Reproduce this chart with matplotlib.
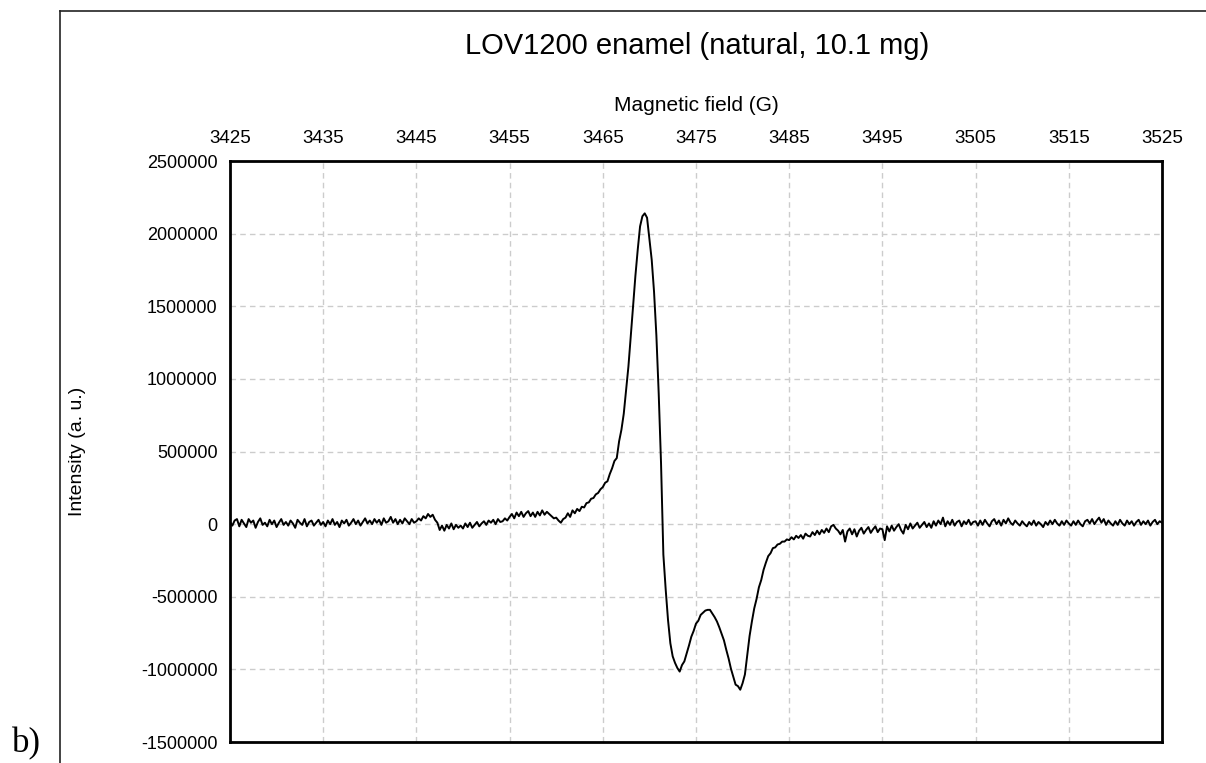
import numpy as np
import matplotlib
matplotlib.use("Agg")
import matplotlib.pyplot as plt
from matplotlib.lines import Line2D

plt.rcParams['font.family'] = ['Liberation Sans', 'DejaVu Sans']
plt.rcParams['axes.unicode_minus'] = False

# field sampled every 0.25 G from 3425 to 3525
field = np.arange(3425.0, 3525.001, 0.25)

# intensity in thousands (rows of 5 G)
intensity_k = [
    15, -10, 25, 35, -15, 30, 5, -20, 35, 10, 25, -25, 15, 40, -5, 10, -15, 30, 0, 25,
    -20, 10, 35, -5, 15, -10, 25, 5, -25, 30, 10, -5, 35, -15, 15, 25, -10, 10, 30, -5,
    15, -15, 25, 0, 35, -5, 15, -20, 25, 5, 30, -10, 10, 35, 0, 25, -10, 15, 40, 5,
    25, 0, 35, 10, 30, -5, 40, 10, 20, 50, 10, 35, 0, 30, 5, 40, 20, 0, 35, 10,
    20, 40, 25, 55, 40, 70, 50, 65, 30, 10, -40, -10, -45, -5, -30, 5, -35, -5, -25, -10,
    -30, 5, -20, 10, -25, -5, 15, -15, 5, 20, -5, 25, 10, 30, 0, 35, 15, 20, 40, 25,
    50, 70, 40, 80, 55, 85, 50, 75, 90, 55, 80, 50, 85, 60, 95, 65, 85, 70, 55, 40,
    45, 25, 10, 35, 45, 75, 50, 95, 75, 105, 90, 120, 115, 145, 150, 175, 180, 205, 215, 240,
    255, 285, 295, 345, 385, 435, 455, 570, 650, 760, 920, 1085, 1290, 1500, 1710, 1890, 2050, 2120, 2140, 2110,
    1965, 1820, 1600, 1300, 900, 420, -210, -450, -660, -820, -910, -955, -990, -1015, -970, -945, -890, -835, -775, -735,
    -685, -665, -625, -610, -595, -590, -590, -615, -640, -670, -710, -755, -800, -865, -925, -995, -1050, -1105, -1115, -1140,
    -1095, -1035, -900, -770, -670, -580, -515, -435, -385, -315, -265, -220, -200, -165, -160, -140, -135, -120, -120, -105,
    -110, -90, -105, -80, -95, -75, -100, -65, -80, -85, -55, -75, -45, -70, -40, -60, -30, -55, -15, -5,
    -30, -45, -70, -40, -120, -50, -30, -70, -35, -85, -45, -25, -65, -40, -20, -60, -35, -15, -55, -30,
    -35, -110, -15, -50, -10, -45, -20, 0, -40, -65, -5, -35, 5, -30, -10, 10, -25, -5, 15, -20,
    5, -25, 20, -10, 25, 0, 45, -15, 20, -5, 30, -10, 15, 25, -15, 20, 0, 30, -5, 15,
    20, -10, 25, -5, 30, 5, -15, 20, 35, 0, 25, -10, 30, 5, 40, 10, -5, 25, 5, -10,
    20, 0, -15, 15, -5, 25, -10, 15, 0, -20, 15, -5, 25, 0, 30, 5, -10, 20, -5, 25,
    5, -10, 20, -5, 25, 0, -15, 20, 30, 5, 35, 0, 25, 45, 10, 35, -5, 25, 5, -10,
    20, -5, 30, 5, -10, 25, 0, 20, -10, 15, 30, -5, 20, 0, 25, -10, 15, 30, 0, 20, 10,
]
intensity = np.array(intensity_k) * 1000

x_ticks = list(range(3425, 3526, 10))
y_ticks = list(range(-1500000, 2500001, 500000))

fig = plt.figure(figsize=(12.06, 7.63), dpi=100)
ax = fig.add_axes([0.1907, 0.0275, 0.7728, 0.7614])

ax.plot(field, intensity, color='black', linewidth=1.4)

ax.set_xlim(3425, 3525)
ax.set_ylim(-1500000, 2500000)
ax.set_xticks(x_ticks)
ax.set_yticks(y_ticks)
ax.set_yticklabels([str(v) for v in y_ticks])
ax.xaxis.tick_top()
ax.xaxis.set_label_position('top')
ax.tick_params(axis='x', length=0, pad=10, labelsize=13.5)
ax.tick_params(axis='y', length=0, pad=9, labelsize=13)

ax.grid(True, color='#cccccc', linestyle=(0, (4, 3)), linewidth=1.0)
for s in ax.spines.values():
    s.set_linewidth(2.0)
    s.set_color('black')

ax.set_xlabel('Magnetic field (G)', fontsize=15, labelpad=14)
ax.set_ylabel('Intensity (a. u.)', fontsize=14)
ax.yaxis.set_label_coords(-0.155, 0.5)

fig.text(0.578, 0.94, 'LOV1200 enamel (natural, 10.1 mg)', fontsize=21,
         ha='center', va='center')

# outer frame (left and top edges)
fig.add_artist(Line2D([0.0498, 0.0498], [0.0, 0.9856], transform=fig.transFigure,
                      color='#222222', linewidth=1.2))
fig.add_artist(Line2D([0.0498, 1.0], [0.9856, 0.9856], transform=fig.transFigure,
                      color='#222222', linewidth=1.2))

fig.text(0.01, 0.025, 'b)', fontsize=25, family='Liberation Serif',
         ha='left', va='center')

fig.savefig('out.png', dpi=100)
